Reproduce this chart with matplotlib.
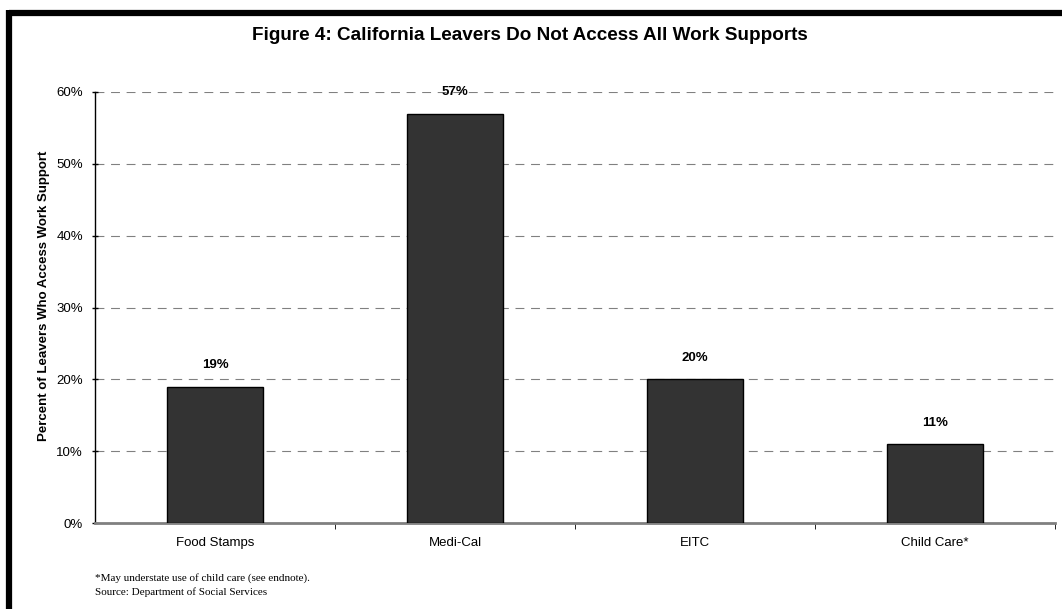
import matplotlib.pyplot as plt
from matplotlib.lines import Line2D

plt.rcParams['font.family'] = ['Liberation Sans', 'DejaVu Sans']

categories = ['Food Stamps', 'Medi-Cal', 'EITC', 'Child Care*']
values = [19, 57, 20, 11]
yticks = [0, 10, 20, 30, 40, 50, 60]

fig = plt.figure(figsize=(10.62, 6.09), dpi=100)
ax = fig.add_axes([95 / 1062, 1 - 523 / 609, 960 / 1062, 431 / 609])

x = range(len(categories))
ax.bar(x, values, width=0.4, color='#333333', edgecolor='black', linewidth=1, zorder=3)
for xi, v in zip(x, values):
    ax.annotate(f'{v}%', (xi, v), xytext=(0, 11), textcoords='offset points',
                ha='center', va='bottom', fontsize=9.5, fontweight='bold')

ax.set_xlim(-0.5, len(categories) - 0.5)
ax.set_ylim(0, 60)
ax.set_yticks(yticks)
ax.set_yticklabels([f'{t}%' for t in yticks], fontsize=9.5)
ax.set_xticks(list(x))
ax.set_xticklabels(categories, fontsize=9.5)
ax.tick_params(axis='x', length=0, pad=10)
ax.set_xticks([i + 0.5 for i in x], minor=True)
ax.tick_params(axis='x', which='minor', length=4, direction='out', color='black')
ax.tick_params(axis='y', length=5, direction='inout', width=1, pad=6)

ax.yaxis.grid(True, linestyle=(0, (8, 6)), color='#808080', linewidth=0.8, zorder=0)
for s in ['top', 'right']:
    ax.spines[s].set_visible(False)
ax.spines['left'].set_color('black')
ax.spines['left'].set_linewidth(1)
ax.spines['bottom'].set_color('#808080')
ax.spines['bottom'].set_linewidth(2)

fig.text(44 / 1062, 1 - 296 / 609, 'Percent of Leavers Who Access Work Support',
         rotation=90, ha='center', va='center', fontsize=9.5, fontweight='bold')

fig.text(530 / 1062, 1 - 35 / 609, 'Figure 4: California Leavers Do Not Access All Work Supports',
         ha='center', va='center', fontsize=13.6, fontweight='bold')
fig.text(95 / 1062, 1 - 578 / 609, '*May understate use of child care (see endnote).',
         ha='left', va='center', fontsize=8, family=['Liberation Serif', 'DejaVu Serif'])
fig.text(95 / 1062, 1 - 592 / 609, 'Source: Department of Social Services',
         ha='left', va='center', fontsize=8, family=['Liberation Serif', 'DejaVu Serif'])

# outer frame (only top and left visible in the crop)
fig.add_artist(Line2D([9 / 1062, 1], [1 - 13 / 609, 1 - 13 / 609], color='black', linewidth=4.5,
                      transform=fig.transFigure, solid_capstyle='butt'))
fig.add_artist(Line2D([9 / 1062, 9 / 1062], [0, 1 - 10 / 609], color='black', linewidth=4.5,
                      transform=fig.transFigure, solid_capstyle='butt'))

fig.savefig('out.png', dpi=100)
